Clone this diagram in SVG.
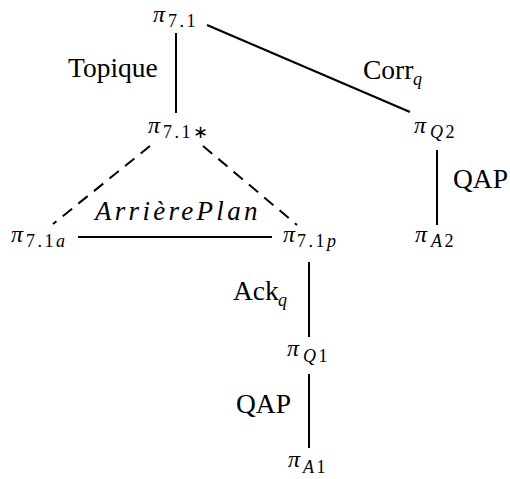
<svg xmlns="http://www.w3.org/2000/svg" width="510" height="479" viewBox="0 0 510 479">
<style>
text{font-family:"Liberation Serif","Times New Roman",serif;fill:#000}
.lbl{font-size:27.5px}
.pi{font-size:24px;font-style:italic}
.sub{font-size:18px;letter-spacing:2.5px}
.it{font-style:italic}
.q{font-size:18px;font-style:italic}
.ap{font-size:27px;font-style:italic;letter-spacing:3.3px}
line{stroke:#000;stroke-width:2}
.dash{stroke-dasharray:12 8}
</style>
<rect width="510" height="479" fill="#fff"/>
<g id="connectors">
<line x1="176" y1="33" x2="176" y2="113"/>
<line x1="207" y1="25" x2="410" y2="112"/>
<line x1="437" y1="150" x2="437" y2="225"/>
<line class="dash" x1="150" y1="146" x2="53" y2="224"/>
<line class="dash" x1="203" y1="146" x2="297" y2="225"/>
<line x1="78" y1="237" x2="272" y2="237"/>
<line x1="309" y1="262" x2="309" y2="337"/>
<line x1="309" y1="374" x2="309" y2="448"/>
</g>
<g id="labels">
<text class="lbl" x="68" y="77">Topique</text>
<text class="lbl" x="363" y="79">Corr<tspan class="q" x="413" y="85">q</tspan></text>
<text class="lbl" x="453" y="188">QAP</text>
<text class="ap" x="95" y="220">ArrièrePlan</text>
<text class="lbl" x="233" y="300">Ack<tspan class="q" x="278" y="306">q</tspan></text>
<text class="lbl" x="236" y="413">QAP</text>
</g>
<g id="n71"><text><tspan class="pi" x="153" y="22">π</tspan><tspan class="sub" x="168" y="27">7.1</tspan></text></g>
<g id="n71s"><text><tspan class="pi" x="148" y="133">π</tspan><tspan class="sub" x="163" y="138">7.1∗</tspan></text></g>
<g id="nQ2"><text><tspan class="pi" x="414" y="133">π</tspan><tspan class="sub" x="430" y="138"><tspan class="it">Q</tspan>2</tspan></text></g>
<g id="nA2"><text><tspan class="pi" x="415" y="242">π</tspan><tspan class="sub" x="431" y="247"><tspan class="it">A</tspan>2</tspan></text></g>
<g id="n71a"><text><tspan class="pi" x="11" y="242">π</tspan><tspan class="sub" x="26" y="247">7.1<tspan class="it">a</tspan></tspan></text></g>
<g id="n71p"><text><tspan class="pi" x="283" y="242">π</tspan><tspan class="sub" x="297" y="247">7.1<tspan class="it">p</tspan></tspan></text></g>
<g id="nQ1"><text><tspan class="pi" x="287" y="356">π</tspan><tspan class="sub" x="303" y="362"><tspan class="it">Q</tspan>1</tspan></text></g>
<g id="nA1"><text><tspan class="pi" x="288" y="467">π</tspan><tspan class="sub" x="303" y="473"><tspan class="it">A</tspan>1</tspan></text></g>
</svg>
